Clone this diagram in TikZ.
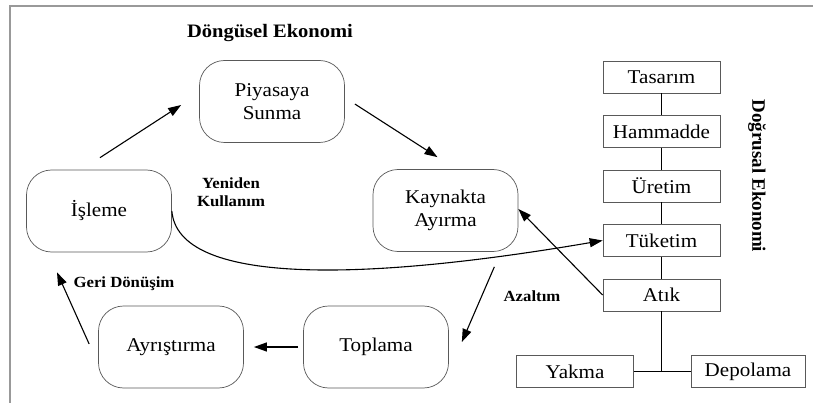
\documentclass[tikz,border=0pt]{standalone}
\usepackage{fontspec}
\setmainfont{Liberation Serif}[FakeStretch=1.08]
\newfontfamily\uprightserif{Liberation Serif}
\usetikzlibrary{arrows.meta}
\begin{document}
\begin{tikzpicture}[x=1pt,y=-1pt,
  rbox/.style={draw=black!65, line width=0.7pt, rounded corners=25pt, minimum width=145pt, minimum height=82pt, align=center, inner sep=2pt, font=\fontsize{19.5}{22.5}\selectfont},
  sbox/.style={draw=black!65, line width=0.7pt, minimum width=117pt, minimum height=32pt, inner sep=1pt, font=\fontsize{19.5}{22}\selectfont},
  lbl/.style={font=\bfseries\fontsize{15.5}{18}\selectfont, align=center, inner sep=0pt},
  ttl/.style={font=\bfseries\fontsize{19}{22}\selectfont, inner sep=0pt},
  arr/.style={line width=1.1pt, -{Triangle[length=13pt,width=9pt]}},
  conn/.style={line width=1.1pt}]
\useasboundingbox (0,0) rectangle (813,403);
% frame
\draw[black!40, line width=1.5pt] (813,6) -- (10,6) -- (10,403);
% titles
\node[ttl] (t1) at (270,33) {Döngüsel Ekonomi};
\node[ttl, rotate=-90, font=\uprightserif\bfseries\fontsize{19}{22}\selectfont] (t2) at (757,176) {Doğrusal Ekonomi};
% circular economy
\node[rbox] (piyasa) at (272,101.5) {Piyasaya\\Sunma};
\node[rbox] (isleme) at (99,211) {İşleme};
\node[rbox] (kaynak) at (445.5,210.5) {Kaynakta\\Ayırma};
\node[rbox] (topla) at (376,347) {Toplama};
\node[rbox] (ayris) at (171,347) {Ayrıştırma};
% labels
\node[lbl] (l1) at (231,192) {Yeniden\\Kullanım};
\node[lbl] (l2) at (124,284) {Geri Dönüşim};
\node[lbl] (l3) at (532,296) {Azaltım};
% linear economy
\node[sbox] (tas) at (661.5,77) {Tasarım};
\node[sbox] (ham) at (661.5,131.5) {Hammadde};
\node[sbox] (ure) at (661.5,186) {Üretim};
\node[sbox] (tuk) at (661.5,240.5) {Tüketim};
\node[sbox] (atik) at (661.5,295) {Atık};
\node[sbox] (yak) at (575,371.5) {Yakma};
\node[sbox, minimum width=114pt] (dep) at (748,371.5) {Depolama};
\coordinate (jn) at (661.5,371.5);
\draw[conn] (tas) -- (ham);
\draw[conn] (ham) -- (ure);
\draw[conn] (ure) -- (tuk);
\draw[conn] (tuk) -- (atik);
\draw[conn] (atik) -- (jn);
\draw[conn] (yak) -- (dep);
% arrows
\draw[arr] ([shift={(1,-12)}]isleme.north) -- ([shift={(-18,3.5)}]piyasa.west);
\draw[arr] ([shift={(10,2.5)}]piyasa.east) -- ([shift={(-8,-12)}]kaynak.north);
\draw[arr] ([shift={(-24,15)}]kaynak.south east) -- ([shift={(13,-5)}]topla.east);
\draw[arr] ([xshift=-5pt]topla.west) -- ([xshift=10pt]ayris.east);
\draw[arr] ([shift={(-9,-3)}]ayris.west) -- ([shift={(-42,20)}]isleme.south);
\draw[arr] (isleme.east) .. controls (178,285) and (360,282) .. (tuk.west);
\draw[arr] (atik.west) -- ([yshift=1.5pt]kaynak.east);
\end{tikzpicture}
\end{document}
